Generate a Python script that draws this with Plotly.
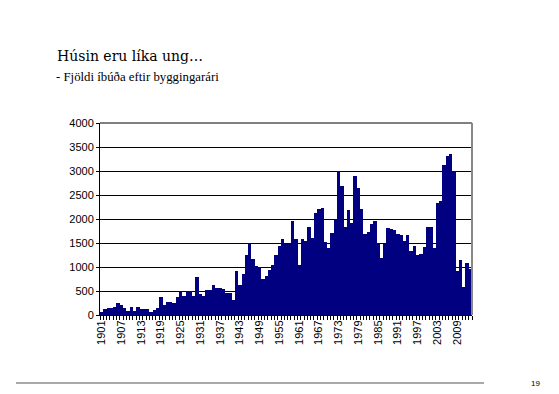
import plotly.graph_objects as go

years = list(range(1901, 2014))
dwellings = [
    70, 130, 140, 150, 170, 240, 200, 150, 85, 165,
    85, 165, 130, 120, 115, 70, 105, 140, 380,
    210, 270, 270, 260, 380, 490, 390, 490, 500, 400, 790,
    444, 396, 520, 520, 625, 555, 555, 540, 465, 465, 312, 917,
    620, 860, 1260, 1490, 1160, 1020, 1000, 760, 810, 940,
    1050, 1240, 1440, 1580, 1470, 1470, 1960, 1580, 1050, 1580,
    1540, 1830, 1610, 2130, 2210, 2220, 1530, 1390, 1710, 2010,
    2990, 2690, 1830, 2190, 1920, 2900, 2640, 2200, 1690, 1720,
    1900, 1960, 1500, 1190, 1470, 1820, 1800, 1780,
    1680, 1660, 1540, 1665, 1330, 1440, 1260, 1280, 1420, 1830,
    1830, 1400, 2340, 2370, 3120, 3310, 3360, 3000, 920, 1150,
    590, 1090, 950,
]
tick_years = list(range(1901, 2014, 6))
tick_labels = [str(y) for y in tick_years]
y_ticks = list(range(0, 4001, 500))

title_text = "Húsin eru líka ung…"
subtitle_text = "- Fjöldi íbúða eftir byggingarári"
page_number = "19"

fig = go.Figure(
    go.Bar(x=years, y=dwellings, marker=dict(color="#000080", line=dict(width=0)))
)

# the page body has an 8px margin, so work in window pixels minus 8
OFF = 8
W, H = 559 - OFF, 394 - OFF
L, R, T, B = 100 - OFF, 472 - OFF, 123 - OFF, 315 - OFF
pw, ph = R - L, B - T


def px(x):
    return (x - OFF - L) / pw


def py(y):
    return (B - (y - OFF)) / ph


fig.update_layout(
    width=W, height=H,
    margin=dict(l=L, r=W - R, t=T, b=H - B, pad=0),
    paper_bgcolor="white", plot_bgcolor="white",
    bargap=0, showlegend=False,
    font=dict(family="Liberation Sans, Arial", size=11, color="black"),
)
fig.update_xaxes(
    range=[1900.5, 2013.5],
    tickmode="array", tickvals=tick_years, ticktext=tick_labels,
    tickangle=-90, ticks="", showgrid=False, zeroline=False,
    showline=True, linecolor="black", linewidth=1,
    tickfont=dict(size=11, color="black"),
    minor=dict(ticks="outside", ticklen=4, tick0=1900.5, dtick=1,
               tickcolor="black", tickwidth=1, showgrid=False),
)
fig.update_yaxes(
    range=[0, 4000], tickmode="array", tickvals=y_ticks,
    showgrid=True, gridcolor="black", gridwidth=1, zeroline=False,
    showline=True, linecolor="black", linewidth=1,
    ticks="outside", ticklen=3, tickcolor="black",
    tickfont=dict(size=11, color="black"),
)

# top and right border of plot area
fig.add_shape(type="line", xref="paper", yref="paper", x0=0, x1=1, y0=1, y1=1,
              line=dict(color="black", width=1))
fig.add_shape(type="line", xref="paper", yref="paper", x0=1, x1=1, y0=0, y1=1,
              line=dict(color="#888888", width=2))

# footer line
fig.add_shape(type="line", xref="paper", yref="paper",
              x0=px(16), x1=px(484), y0=py(383), y1=py(383),
              line=dict(color="#555555", width=1))

fig.add_annotation(text=title_text, xref="paper", yref="paper",
                   x=px(55), y=py(56), xanchor="left", yanchor="middle",
                   showarrow=False,
                   font=dict(family="DejaVu Serif, Liberation Serif", size=14, color="black"))
fig.add_annotation(text=subtitle_text, xref="paper", yref="paper",
                   x=px(54), y=py(77), xanchor="left", yanchor="middle",
                   showarrow=False,
                   font=dict(family="Liberation Serif, Times New Roman", size=12.8, color="black"))
fig.add_annotation(text=page_number, xref="paper", yref="paper",
                   x=px(535), y=py(383), xanchor="center", yanchor="middle",
                   showarrow=False,
                   font=dict(family="Liberation Sans, Arial", size=8, color="black"))

fig.write_html("out.html")
